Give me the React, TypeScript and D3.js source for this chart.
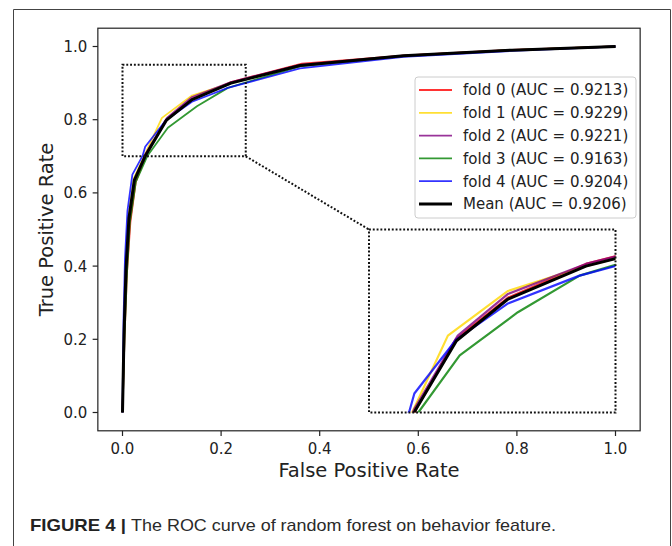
import React from "react";
import * as d3 from "d3";

// ---- data ----
const seriesNames = ["fold 0", "fold 1", "fold 2", "fold 3", "fold 4", "Mean"];
const aucValues = [0.9213, 0.9229, 0.9221, 0.9163, 0.9204, 0.9206];

const fold0Fpr = [0, 0.004, 0.009, 0.016, 0.027, 0.048, 0.088, 0.141, 0.22, 0.364, 0.575, 0.79, 1];
const fold0Tpr = [0, 0.2, 0.38, 0.52, 0.63, 0.705, 0.8, 0.857, 0.903, 0.953, 0.976, 0.991, 1];

const fold1Fpr = [0, 0.003, 0.007, 0.013, 0.023, 0.042, 0.08, 0.141, 0.22, 0.36, 0.57, 0.79, 1];
const fold1Tpr = [0, 0.22, 0.4, 0.54, 0.64, 0.695, 0.805, 0.866, 0.9, 0.948, 0.975, 0.99, 1];

const fold2Fpr = [0, 0.003, 0.008, 0.014, 0.025, 0.046, 0.09, 0.141, 0.22, 0.36, 0.57, 0.79, 1];
const fold2Tpr = [0, 0.21, 0.39, 0.53, 0.635, 0.705, 0.805, 0.862, 0.903, 0.95, 0.975, 0.99, 1];

const fold3Fpr = [0, 0.004, 0.009, 0.015, 0.027, 0.05, 0.092, 0.151, 0.2136, 0.36, 0.57, 0.79, 1];
const fold3Tpr = [0, 0.2, 0.38, 0.52, 0.63, 0.7, 0.778, 0.837, 0.887, 0.946, 0.974, 0.99, 1];

const fold4Fpr = [0, 0.002, 0.005, 0.01, 0.02, 0.041, 0.046, 0.0887, 0.141, 0.2136, 0.36, 0.57, 0.79, 1];
const fold4Tpr = [0, 0.25, 0.42, 0.55, 0.65, 0.702, 0.726, 0.8, 0.849, 0.887, 0.94, 0.972, 0.988, 1];

const meanFpr = [0, 0.003, 0.007, 0.013, 0.024, 0.047, 0.0887, 0.141, 0.22, 0.36, 0.57, 0.79, 1];
const meanTpr = [0, 0.21, 0.39, 0.53, 0.635, 0.703, 0.798, 0.855, 0.9, 0.948, 0.975, 0.99, 1];

const xTicks = [0, 0.2, 0.4, 0.6, 0.8, 1.0];
const yTicks = [0, 0.2, 0.4, 0.6, 0.8, 1.0];

const seriesFpr = [fold0Fpr, fold1Fpr, fold2Fpr, fold3Fpr, fold4Fpr, meanFpr];
const seriesTpr = [fold0Tpr, fold1Tpr, fold2Tpr, fold3Tpr, fold4Tpr, meanTpr];

// ---- styling ----
const colors = ["#ff0000", "#ffd700", "#800080", "#008000", "#0000ff", "#000000"];
const widths = [1.8, 1.8, 1.8, 1.8, 1.8, 3];
const opac = [0.8, 0.8, 0.8, 0.8, 0.8, 1];
const FONT = "'DejaVu Sans', sans-serif";
const INK = "#222";
const CAPFONT = "'Liberation Sans Narrow', 'Liberation Sans', Arial, sans-serif";

export default function App() {
  const W = 672, H = 546;
  const x = d3.scaleLinear().domain([-0.05, 1.05]).range([97.85, 640.15]);
  const y = d3.scaleLinear().domain([-0.05, 1.05]).range([430.8, 28.2]);

  const zx0 = 0, zx1 = 0.25, zy0 = 0.7, zy1 = 0.95;
  const ix = d3.scaleLinear().domain([zx0, zx1]).range([x(0.5), x(1.0)]);
  const iy = d3.scaleLinear().domain([zy0, zy1]).range([y(0), y(0.5)]);

  const data = seriesFpr.map((f, i) => f.map((v, j) => [v, seriesTpr[i][j]] as [number, number]));
  const mainLine = d3.line<[number, number]>().x(d => x(d[0])).y(d => y(d[1]));
  const insetLine = d3.line<[number, number]>().x(d => ix(d[0])).y(d => iy(d[1]));

  const [ax0, ax1] = x.range();
  const [ay0, ay1] = y.range(); // ay0 bottom, ay1 top
  const dotted = { stroke: "#111", strokeWidth: 2, strokeDasharray: "1.9 1.9", fill: "none" };

  const legX = 415, legY = 77, legW = 221, legH = 141;
  const rowY = (i: number) => 90 + i * 22.8;

  return (
    <svg width={W} height={H} style={{ position: "absolute", left: 0, top: 0, background: "#fff" }}>
      <defs>
        <clipPath id="mainClip">
          <rect x={ax0} y={ay1} width={ax1 - ax0} height={ay0 - ay1} />
        </clipPath>
        <clipPath id="insetClip">
          <rect x={ix(zx0)} y={iy(zy1)} width={ix(zx1) - ix(zx0)} height={iy(zy0) - iy(zy1)} />
        </clipPath>
      </defs>
      {/* figure frame */}
      <path d={`M13.5,546 V9.5 H670.5 V546`} fill="none" stroke="#444" strokeWidth={1} />

      {/* main curves */}
      <g clipPath="url(#mainClip)">
        {data.map((d, i) => (
          <path key={i} d={mainLine(d) || ""} fill="none" stroke={colors[i]} strokeOpacity={opac[i]}
            strokeWidth={widths[i]} strokeLinejoin="round" />
        ))}
      </g>

      {/* zoom rectangle + connector */}
      <rect x={x(zx0)} y={y(zy1)} width={x(zx1) - x(zx0)} height={y(zy0) - y(zy1)} {...dotted} />
      <line x1={x(zx1)} y1={y(zy0)} x2={x(0.5)} y2={y(0.5)} {...dotted} />

      {/* inset */}
      <rect x={ix(zx0)} y={iy(zy1)} width={ix(zx1) - ix(zx0)} height={iy(zy0) - iy(zy1)} fill="#fff" />
      <g clipPath="url(#insetClip)">
        {data.map((d, i) => (
          <path key={i} d={insetLine(d) || ""} fill="none" stroke={colors[i]} strokeOpacity={opac[i]}
            strokeWidth={widths[i] === 3 ? 3 : 2.2} strokeLinejoin="round" />
        ))}
      </g>
      <rect x={ix(zx0)} y={iy(zy1)} width={ix(zx1) - ix(zx0)} height={iy(zy0) - iy(zy1)} {...dotted} />

      {/* axes frame */}
      <rect x={ax0} y={ay1} width={ax1 - ax0} height={ay0 - ay1} fill="none" stroke={INK} strokeWidth={1.2} />

      {/* x ticks */}
      {xTicks.map(t => (
        <g key={"x" + t}>
          <line x1={x(t)} x2={x(t)} y1={ay0} y2={ay0 + 5.2} stroke={INK} strokeWidth={1.2} />
          <text x={x(t)} y={454} textAnchor="middle" fontFamily={FONT} fontSize={15} fill={INK}>
            {t.toFixed(1)}
          </text>
        </g>
      ))}
      {/* y ticks */}
      {yTicks.map(t => (
        <g key={"y" + t}>
          <line x1={ax0 - 5.2} x2={ax0} y1={y(t)} y2={y(t)} stroke={INK} strokeWidth={1.2} />
          <text x={ax0 - 10.5} y={y(t)} dy="0.36em" textAnchor="end" fontFamily={FONT} fontSize={15} fill={INK}>
            {t.toFixed(1)}
          </text>
        </g>
      ))}

      {/* axis labels */}
      <text x={(ax0 + ax1) / 2} y={477} textAnchor="middle" fontFamily={FONT} fontSize={19.5} fill={INK}>
        False Positive Rate
      </text>
      <text transform={`translate(53,${(ay0 + ay1) / 2}) rotate(-90)`} textAnchor="middle" fontFamily={FONT}
        fontSize={19.5} fill={INK}>
        True Positive Rate
      </text>

      {/* legend */}
      <rect x={legX} y={legY} width={legW} height={legH} rx={3} fill="#fff" fillOpacity={0.8} stroke="#ccc" strokeWidth={1} />
      {seriesNames.map((n, i) => (
        <g key={"l" + i}>
          <line x1={419} x2={452} y1={rowY(i)} y2={rowY(i)} stroke={colors[i]} strokeOpacity={opac[i]}
            strokeWidth={widths[i]} />
          <text x={463} y={rowY(i)} dy="0.36em" fontFamily={FONT} fontSize={15} fill={INK}>
            {`${n} (AUC = ${aucValues[i].toFixed(4)})`}
          </text>
        </g>
      ))}

      {/* caption */}
      <text x={30} y={531} fontFamily={CAPFONT} fontSize={17}
        fontWeight="bold" fill="#222" textLength={96} lengthAdjust="spacingAndGlyphs">
        FIGURE 4 |
      </text>
      <text x={131} y={531} fontFamily={CAPFONT} fontSize={17}
        fill="#2a2a2a" textLength={425} lengthAdjust="spacingAndGlyphs">
        The ROC curve of random forest on behavior feature.
      </text>
    </svg>
  );
}
